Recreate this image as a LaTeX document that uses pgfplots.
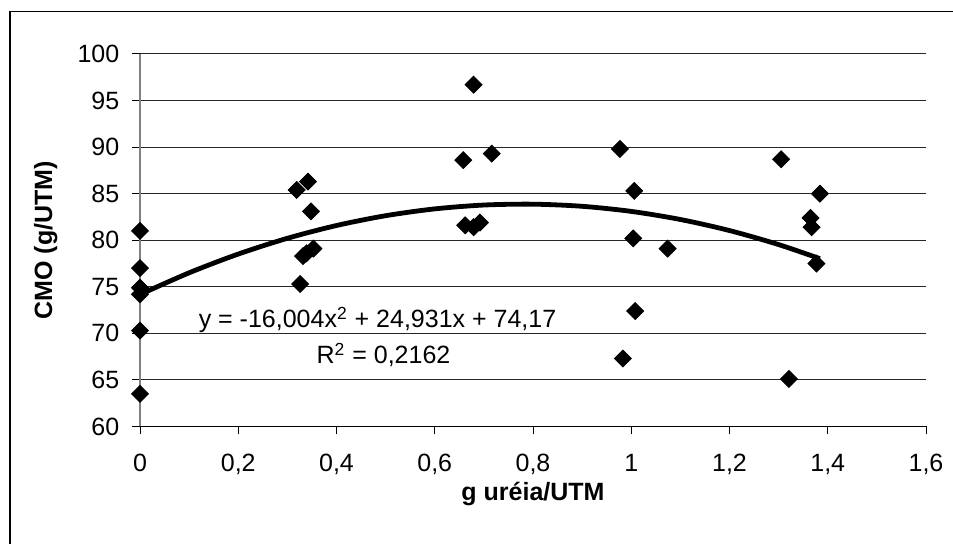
\documentclass[border=0pt]{standalone}
\usepackage{fontspec}
\setmainfont{Liberation Sans}
\usepackage{pgfplots}
\pgfplotsset{compat=1.18}
\begin{document}
\fontsize{12.5}{15}\selectfont
\begin{tikzpicture}
\path[use as bounding box] (0,0) rectangle (476.5pt,272pt);
\draw[line width=0.6pt] (5pt,0) -- (5pt,266.3pt) -- (476.5pt,266.3pt);
\begin{axis}[
  at={(70pt,58.75pt)}, anchor=south west,
  scale only axis, width=393pt, height=186.25pt,
  xmin=0, xmax=1.6, ymin=60, ymax=100,
  axis x line=bottom, axis y line=left,
  axis line style={-},
  x axis line style={black, line width=0.6pt},
  y axis line style={black!50, line width=0.6pt},
  xtick={0,0.2,0.4,0.6,0.8,1,1.2,1.4,1.6},
  xticklabels={0,{0,2},{0,4},{0,6},{0,8},1,{1,2},{1,4},{1,6}},
  ytick={60,65,70,75,80,85,90,95,100},
  tick align=outside, major tick length=4pt,
  tick style={black, line width=0.5pt},
  ymajorgrids, major grid style={black!85, line width=0.5pt},
  /pgf/number format/assume math mode=true,
  tick label style={font=\fontsize{12.5}{15}\selectfont},
  xticklabel style={yshift=-5.5pt},
  yticklabel style={xshift=-2pt},
  xlabel={g uréia/UTM}, ylabel={CMO (g/UTM)},
  label style={font=\fontsize{12.5}{15}\selectfont\bfseries},
  xlabel style={at={(axis description cs:0.5,-0.18)}, anchor=center},
  ylabel style={at={(axis description cs:-0.12,0.5)}, anchor=center},
  clip=false,
]
\addplot[only marks, mark=square*, mark size=3pt, mark options={rotate=45, fill=black, draw=black}] coordinates {
(0,81.0) (0,77.0) (0,74.9) (0,74.2) (0,70.3) (0,63.5)
(0.319,85.4) (0.342,86.3) (0.348,83.1) (0.353,79.1) (0.339,78.6) (0.332,78.3) (0.326,75.3)
(0.679,96.7) (0.658,88.6) (0.716,89.3) (0.662,81.6) (0.679,81.4) (0.692,81.9)
(0.977,89.8) (1.006,85.3) (1.004,80.2) (1.074,79.1) (1.008,72.4) (0.983,67.3)
(1.305,88.7) (1.384,85.0) (1.365,82.4) (1.367,81.4) (1.377,77.5) (1.321,65.1)
};
\addplot[black, line width=2.4pt, smooth] coordinates {
(0,74.170) (0.1,76.503) (0.2,78.516) (0.3,80.209) (0.4,81.582) (0.5,82.635)
(0.6,83.367) (0.7,83.780) (0.8,83.872) (0.9,83.645) (1.0,83.097) (1.1,82.229)
(1.2,81.041) (1.3,79.534) (1.384,78.020)
};
\node[font=\fontsize{12.5}{15}\selectfont] at (axis cs:0.4835,71.44) {y = -16,004x\textsuperscript{2} + 24,931x + 74,17};
\node[font=\fontsize{12.5}{15}\selectfont] at (axis cs:0.4957,67.68) {R\textsuperscript{2} = 0,2162};
\end{axis}
\end{tikzpicture}
\end{document}
